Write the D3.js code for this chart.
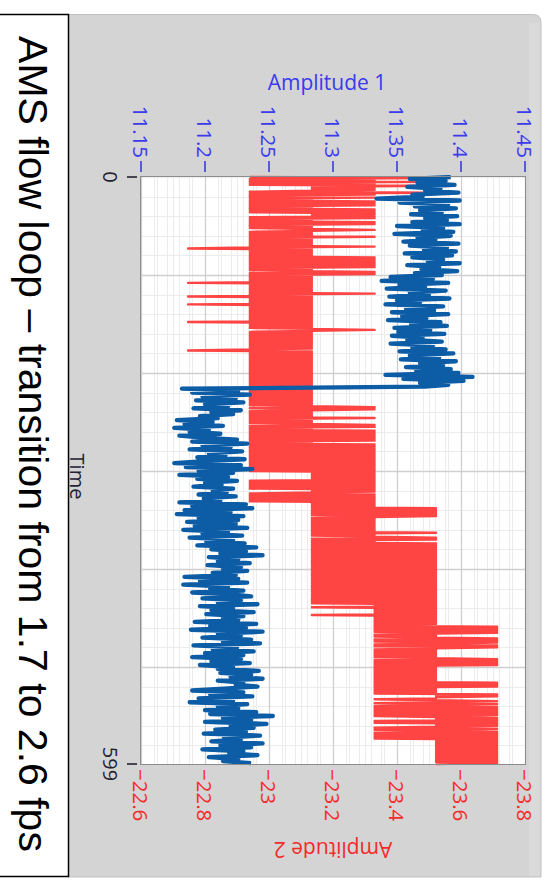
<!DOCTYPE html>
<html><head><meta charset="utf-8">
<script src="https://cdn.jsdelivr.net/npm/d3@7"></script>
<style>html,body{margin:0;padding:0;background:#fff;} svg{display:block;}</style>
</head><body>
<svg id="c" width="548" height="880"></svg>
<script>
// ---------------- data ----------------
const title = "AMS flow loop – transition from 1.7 to 2.6 fps";
const timeLabel = "Time";
const amp1Label = "Amplitude 1";
const amp2Label = "Amplitude 2";
const timeDomain = [0, 599];
const timeTicks = [0, 599];
const amp1Domain = [11.15, 11.45];
const amp1Ticks = [11.15, 11.2, 11.25, 11.3, 11.35, 11.4, 11.45];
const amp2Domain = [-22.6, -23.8];
const amp2Ticks = [-22.6, -22.8, -23, -23.2, -23.4, -23.6, -23.8];

// Amplitude 1 (blue), one reading every 2 time units
const amp1Step = 2;
const amp1Values = [
11.392,11.360,11.388,11.366,11.395,11.358,11.384,11.372,11.398,11.362,
11.370,11.334,11.399,11.352,11.390,11.364,11.396,11.368,11.385,11.361,
11.397,11.372,11.389,11.362,11.399,11.350,11.386,11.370,11.394,11.348,
11.392,11.366,11.380,11.355,11.398,11.360,11.389,11.371,11.396,11.356,
11.393,11.362,11.386,11.374,11.399,11.358,11.383,11.369,11.397,11.364,
11.385,11.345,11.378,11.338,11.390,11.352,11.372,11.342,11.388,11.360,
11.375,11.344,11.391,11.350,11.368,11.341,11.386,11.357,11.379,11.346,
11.390,11.354,11.373,11.343,11.384,11.361,11.389,11.348,11.376,11.351,
11.387,11.346,11.370,11.358,11.385,11.345,11.378,11.362,11.388,11.352,
11.394,11.360,11.383,11.353,11.396,11.368,11.386,11.357,11.392,11.365,
11.398,11.341,11.409,11.355,11.402,11.368,11.390,11.372,
11.182,11.226,11.190,11.235,11.198,
11.224,11.193,11.230,11.200,11.218,11.191,11.228,11.205,11.222,11.196,
11.210,11.178,11.206,11.184,11.214,11.176,11.203,11.188,11.212,11.180,11.198,
11.225,11.190,11.233,11.198,11.220,11.188,11.229,11.203,11.216,11.194,11.231,11.200,
11.176,11.228,11.185,11.237,11.195,11.222,11.180,
11.218,11.194,11.225,11.200,11.213,11.191,11.222,11.206,11.217,11.195,11.224,11.199,11.212,
11.180,11.232,11.190,11.237,11.184,11.220,11.178,11.230,11.195,11.226,
11.186,11.224,11.192,11.233,11.183,11.218,11.198,11.229,11.188,11.222,11.201,11.231,11.194,
11.240,11.205,11.232,11.212,11.245,11.203,11.226,
11.210,11.235,11.202,11.228,11.214,11.233,11.206,11.224,
11.184,11.226,11.196,11.233,11.183,11.218,11.204,11.230,11.190,11.221,
11.236,11.198,11.228,11.210,11.241,11.196,11.222,11.205,11.238,11.201,11.230,11.214,11.226,
11.192,11.240,11.204,11.232,11.189,11.245,11.210,11.228,11.198,11.236,11.214,11.243,11.191,11.225,11.206,11.238,11.200,11.230,
11.190,11.228,11.205,11.235,11.196,11.222,11.210,
11.242,11.212,11.236,11.220,11.245,11.210,11.230,11.224,11.241,11.215,
11.190,11.230,11.204,11.237,11.195,11.222,11.188,11.233,11.210,11.226,11.200,
11.240,11.204,11.253,11.214,11.236,11.200,11.248,11.220,11.238,11.208,
11.232,11.199,11.243,11.215,11.228,11.205,11.245,11.212,11.236,11.198,11.230,11.219,11.241,11.203,11.226,11.214,11.236
];

// Amplitude 2 (red) is quantised: these are the levels it takes
const amp2Levels = [-22.747, -22.940, -23.134, -23.330, -23.522, -23.713];
// one level index per time unit, t = 0 .. 599
const amp2Codes = [
"14131413142323214131",
"131213131312131313323131213131",
"1212321212","1312121212","1310212121","2131313131","3131212313",
"1212121202","1212121213","1202121212","0212121212","1212121202",
"1212123212","1212121212","1212121021","2121212121","2121212121",
"2121212121","2121212121","2121212121","212",
"12","3132","1212121","3","121212","3131","21","3131313131312131313",
"131","31","3","131313131313131313","23232323","1313131313","232","131313131",
"323232","424242424","3232323232323232","4","2323","4242","32",
"4242424242","4242424242","4242424242","4242424242","4242424242","4242424242","424",
"342434343424343434343",
"35353535","43434","53535","4","3535","43434343434","53535353",
"4343434343434343","535353","43434","35454","434543","5435",
"353535353","4545","3535","454","353","45","35353535",
"4545454545","4545454545","45454"
].join("");

// ---------------- layout ----------------
const plot = {x0: 141, x1: 525, y0: 177, y1: 764};
const svg = d3.select("#c");
const uiFont = "'Open Sans', 'Noto Sans', sans-serif";

const yT = d3.scaleLinear().domain(timeDomain).range([plot.y0, plot.y1]);
const x1 = d3.scaleLinear().domain(amp1Domain).range([plot.x0, plot.x1]);
const x2 = d3.scaleLinear().domain(amp2Domain).range([plot.x0, plot.x1]);

// panel
const pL = 68, pR = 541, pT = 14.5, pB = 877, pr = 8;
svg.append("path")
  .attr("d", `M${pL},${pT} H${pR - pr} Q${pR},${pT} ${pR},${pT + pr} V${pB} H${pL} Z`)
  .attr("fill", "#d4d4d4").attr("stroke", "#c2c2c2").attr("stroke-width", 1);
svg.append("rect").attr("x", pR - 12).attr("y", pT + pr).attr("width", 11).attr("height", pB - pT - pr - 1)
  .attr("fill", "#dadada");

// title box
svg.append("rect").attr("x", -1).attr("y", 14.5).attr("width", 69.5).attr("height", 862)
  .attr("fill", "#fff").attr("stroke", "#000").attr("stroke-width", 1.5);
svg.append("text")
  .attr("transform", `translate(33,444) rotate(90)`)
  .attr("text-anchor", "middle").attr("dominant-baseline", "central")
  .attr("font-family", "'Liberation Sans', Arial, sans-serif").attr("font-size", 41)
  .attr("fill", "#000").text(title);

// plot background
svg.append("rect").attr("x", plot.x0).attr("y", plot.y0)
  .attr("width", plot.x1 - plot.x0).attr("height", plot.y1 - plot.y0).attr("fill", "#fff");

const grid = svg.append("g");
const minor1 = d3.range(0, 31).map(i => amp1Domain[0] + i * 0.01);
const minor2 = d3.range(0, 25).map(i => amp2Domain[0] - i * 0.05);
const minorT = d3.range(0, 600, 20);
grid.selectAll(".m1").data(minor1).join("line")
  .attr("x1", d => Math.round(x1(d)) + 0.5).attr("x2", d => Math.round(x1(d)) + 0.5)
  .attr("y1", plot.y0).attr("y2", plot.y1).attr("stroke", "#ececec");
grid.selectAll(".m2").data(minor2).join("line")
  .attr("x1", d => Math.round(x2(d)) + 0.5).attr("x2", d => Math.round(x2(d)) + 0.5)
  .attr("y1", plot.y0).attr("y2", plot.y1).attr("stroke", "#ececec");
grid.selectAll(".mt").data(minorT).join("line")
  .attr("y1", d => Math.round(yT(d)) + 0.5).attr("y2", d => Math.round(yT(d)) + 0.5)
  .attr("x1", plot.x0).attr("x2", plot.x1).attr("stroke", "#ececec");
grid.selectAll(".M1").data(amp1Ticks).join("line")
  .attr("x1", d => Math.round(x1(d)) + 0.5).attr("x2", d => Math.round(x1(d)) + 0.5)
  .attr("y1", plot.y0).attr("y2", plot.y1).attr("stroke", "#cfcfcf").attr("stroke-width", 1.3);
grid.selectAll(".MT").data(d3.range(100, 600, 100)).join("line")
  .attr("y1", d => Math.round(yT(d)) + 0.5).attr("y2", d => Math.round(yT(d)) + 0.5)
  .attr("x1", plot.x0).attr("x2", plot.x1).attr("stroke", "#cfcfcf").attr("stroke-width", 1.3);

// series
const redData = Array.from(amp2Codes, (c, i) => ({t: i, v: amp2Levels[+c]}));
const blueData = amp1Values.map((v, i) => ({t: i * amp1Step, v}));
svg.append("clipPath").attr("id", "pc").append("rect")
  .attr("x", plot.x0).attr("y", plot.y0 - 2).attr("width", plot.x1 - plot.x0).attr("height", plot.y1 - plot.y0 + 4);
const series = svg.append("g").attr("clip-path", "url(#pc)");
series.append("path").datum(redData)
  .attr("d", d3.line().x(d => x2(d.v)).y(d => yT(d.t)))
  .attr("fill", "none").attr("stroke", "#ff4444").attr("stroke-width", 2.4).attr("stroke-linejoin", "round");
series.append("path").datum(blueData)
  .attr("d", d3.line().x(d => x1(d.v)).y(d => yT(d.t)))
  .attr("fill", "none").attr("stroke", "#0d5ca6").attr("stroke-width", 4.3).attr("stroke-linejoin", "round");

// plot frame
svg.append("rect").attr("x", plot.x0 - 0.5).attr("y", plot.y0 - 0.5)
  .attr("width", plot.x1 - plot.x0 + 1).attr("height", plot.y1 - plot.y0 + 1)
  .attr("fill", "none").attr("stroke", "#8c8c8c");

const fmt = v => String(v).replace("-", "\u2212");
const blueC = "#3a3aee", redC = "#f42a2a", darkC = "#222233";

// top axis (Amplitude 1)
const topAx = svg.append("g");
topAx.selectAll("line").data(amp1Ticks).join("line")
  .attr("x1", d => x1(d)).attr("x2", d => x1(d)).attr("y1", 161).attr("y2", 172)
  .attr("stroke", blueC).attr("stroke-width", 1.6);
topAx.selectAll("text").data(amp1Ticks).join("text")
  .attr("transform", d => `translate(${x1(d)},158) rotate(90)`)
  .attr("text-anchor", "end").attr("dominant-baseline", "central")
  .attr("font-family", uiFont).attr("font-size", 20.5).attr("fill", blueC).text(fmt);
svg.append("text").attr("x", (plot.x0 + plot.x1) / 2 - 6).attr("y", 90)
  .attr("text-anchor", "middle").attr("font-family", uiFont).attr("font-size", 21)
  .attr("fill", blueC).text(amp1Label);

// bottom axis (Amplitude 2)
const botAx = svg.append("g");
botAx.selectAll("text").data(amp2Ticks).join("text")
  .attr("transform", d => `translate(${x2(d)},769) rotate(90)`)
  .attr("text-anchor", "start").attr("dominant-baseline", "central")
  .attr("font-family", uiFont).attr("font-size", 20.5).attr("fill", redC).text(fmt);
svg.append("text").attr("transform", `translate(${(plot.x0 + plot.x1) / 2},850) rotate(180)`)
  .attr("text-anchor", "middle").attr("dominant-baseline", "central")
  .attr("font-family", uiFont).attr("font-size", 21).attr("fill", redC).text(amp2Label);

// time axis
const timeAx = svg.append("g");
timeAx.selectAll("line").data(timeTicks).join("line")
  .attr("x1", 127).attr("x2", 137).attr("y1", d => yT(d)).attr("y2", d => yT(d))
  .attr("stroke", darkC).attr("stroke-width", 1.6);
timeAx.selectAll("text").data(timeTicks).join("text")
  .attr("transform", d => `translate(110,${yT(d)}) rotate(90)`)
  .attr("text-anchor", "middle").attr("dominant-baseline", "central")
  .attr("font-family", uiFont).attr("font-size", 20).attr("fill", darkC).text(d => String(d));
svg.append("text").attr("transform", `translate(77,${(plot.y0 + plot.y1) / 2 + 6}) rotate(90)`)
  .attr("text-anchor", "middle").attr("dominant-baseline", "central")
  .attr("font-family", uiFont).attr("font-size", 20).attr("fill", darkC).text(timeLabel);
</script>
</body></html>
